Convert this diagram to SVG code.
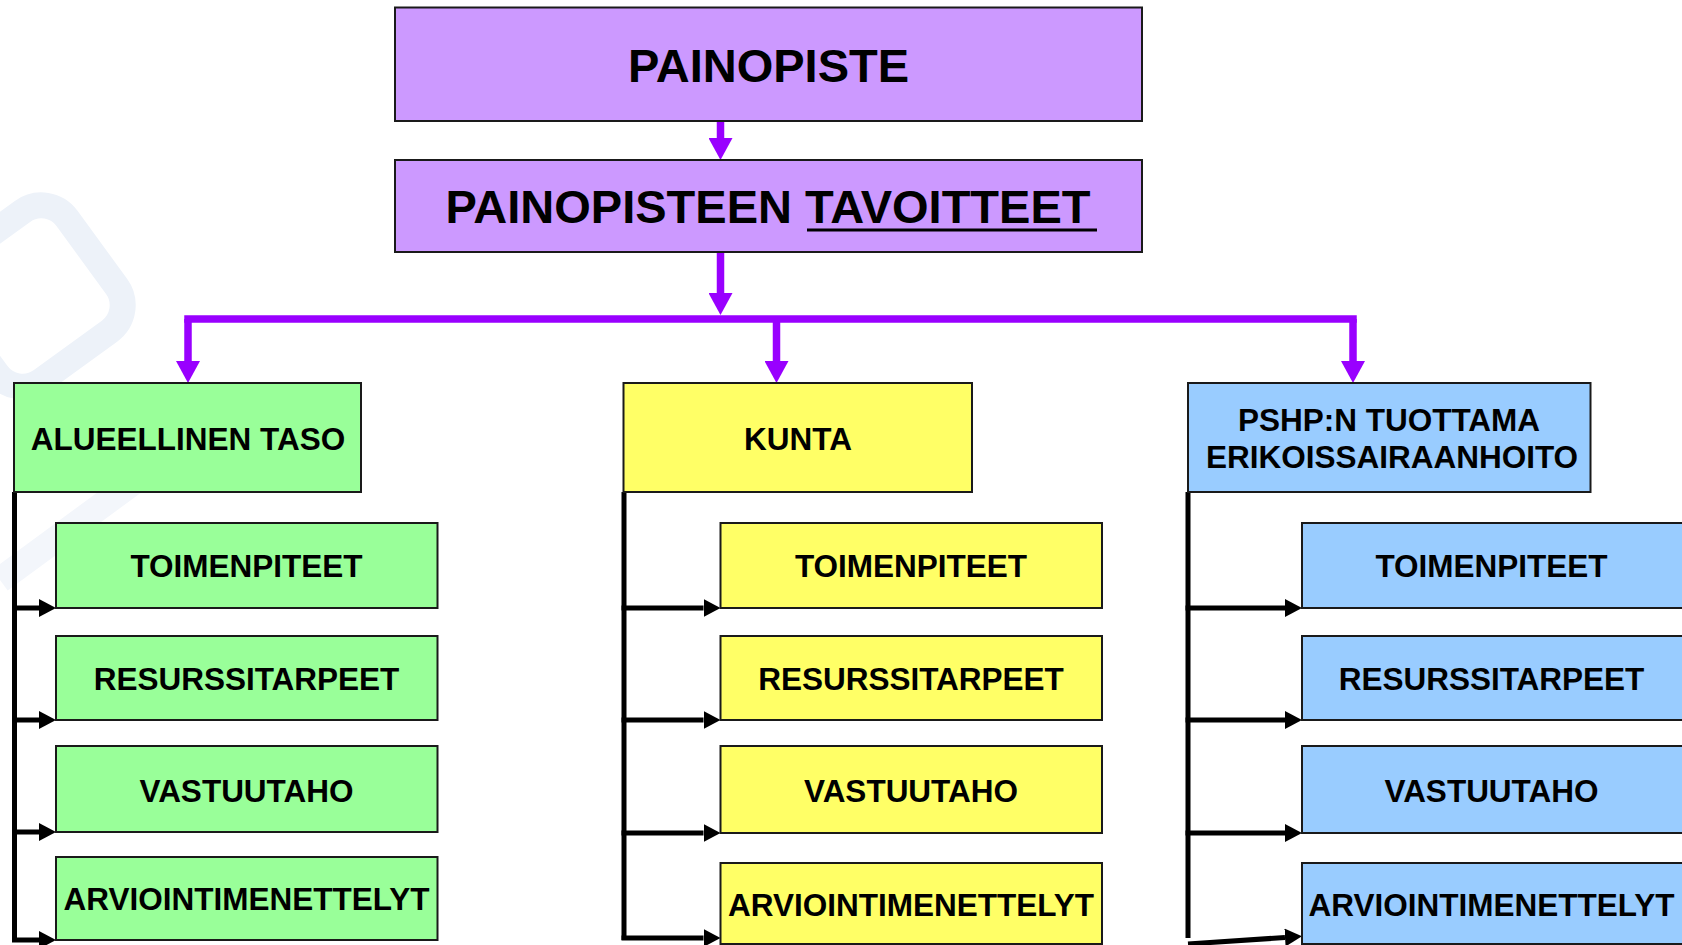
<svg xmlns="http://www.w3.org/2000/svg" width="1682" height="945" viewBox="0 0 1682 945">
<style>
.t{font-family:"Liberation Sans",Arial,sans-serif;font-weight:bold;fill:#000;text-anchor:middle}
.big{font-size:47px}
.mid{font-size:31.5px}
.box{stroke:#1a1a1a;stroke-width:2}
.pur{fill:#CC99FF}.grn{fill:#99FF99}.yel{fill:#FFFF66}.blu{fill:#99CCFF}
.pl{stroke:#9900FF;stroke-width:7.5;fill:none}
.bl{stroke:#000;stroke-width:5;fill:none}
</style>
<defs>
<marker id="ph" viewBox="0 0 22 24" refX="0" refY="12" markerWidth="22" markerHeight="24" markerUnits="userSpaceOnUse" orient="auto"><path d="M0,0 L22,12 L0,24 Z" fill="#9900FF"/></marker>
<marker id="bh" viewBox="0 0 17 18" refX="0" refY="9" markerWidth="17" markerHeight="18" markerUnits="userSpaceOnUse" orient="auto"><path d="M0,0 L17,9 L0,18 Z" fill="#000"/></marker>
</defs>
<rect width="1682" height="945" fill="#fff"/>
<g id="watermark" fill="none" stroke="#EDF2F9" stroke-width="26">
<rect x="-74" y="-74" width="148" height="148" rx="32" transform="translate(32,296) rotate(54)"/>
<path d="M150,470 L0,580" stroke="#F3F6FB"/>
</g>
<g id="connectors">
<path class="pl" d="M720.5,121 V138" marker-end="url(#ph)"/>
<path class="pl" d="M720.5,252 V293" marker-end="url(#ph)"/>
<path class="pl" d="M184.25,319 H1356.75"/>
<path class="pl" d="M188,319 V361" marker-end="url(#ph)"/>
<path class="pl" d="M776.5,319 V361" marker-end="url(#ph)"/>
<path class="pl" d="M1353,319 V361" marker-end="url(#ph)"/>
<path class="bl" d="M14.5,492 V942"/>
<path class="bl" d="M12,608 H39" marker-end="url(#bh)"/>
<path class="bl" d="M12,720 H39" marker-end="url(#bh)"/>
<path class="bl" d="M12,832 H39" marker-end="url(#bh)"/>
<path class="bl" d="M12,940 H39" marker-end="url(#bh)"/>
<path class="bl" d="M624,492 V940"/>
<path class="bl" d="M621.5,608 H703.5" marker-end="url(#bh)"/>
<path class="bl" d="M621.5,720 H703.5" marker-end="url(#bh)"/>
<path class="bl" d="M621.5,833 H703.5" marker-end="url(#bh)"/>
<path class="bl" d="M621.5,938 H703.5" marker-end="url(#bh)"/>
<path class="bl" d="M1188,492 V938"/>
<path class="bl" d="M1185.5,608 H1285" marker-end="url(#bh)"/>
<path class="bl" d="M1185.5,720 H1285" marker-end="url(#bh)"/>
<path class="bl" d="M1185.5,833 H1285" marker-end="url(#bh)"/>
<path class="bl" d="M1188,944 L1285,937.5" marker-end="url(#bh)"/>
</g>
<g id="painopiste">
<rect class="box pur" x="395" y="7.5" width="747" height="113.5"/>
<text class="t big" x="768.5" y="82">PAINOPISTE</text>
</g>
<g id="tavoitteet">
<rect class="box pur" x="395" y="160" width="747" height="92"/>
<text class="t big" x="768" y="223">PAINOPISTEEN TAVOITTEET</text>
<line x1="807" y1="230" x2="1097" y2="230" stroke="#000" stroke-width="3"/>
</g>
<g id="alueellinen">
<rect class="box grn" x="14" y="383" width="347" height="109"/>
<text class="t mid" x="188" y="450">ALUEELLINEN TASO</text>
</g>
<g id="kunta">
<rect class="box yel" x="623.5" y="383" width="348.5" height="109"/>
<text class="t mid" x="798" y="450">KUNTA</text>
</g>
<g id="pshp">
<rect class="box blu" x="1188" y="383" width="402.5" height="109"/>
<text class="t mid" x="1389" y="430.5">PSHP:N TUOTTAMA</text>
<text class="t mid" x="1392" y="468">ERIKOISSAIRAANHOITO</text>
</g>
<g id="g-toimenpiteet">
<rect class="box grn" x="56" y="523" width="381.5" height="85"/>
<text class="t mid" x="246.5" y="577">TOIMENPITEET</text>
</g>
<g id="g-resurssit">
<rect class="box grn" x="56" y="636" width="381.5" height="84"/>
<text class="t mid" x="246.5" y="690">RESURSSITARPEET</text>
</g>
<g id="g-vastuutaho">
<rect class="box grn" x="56" y="746" width="381.5" height="86"/>
<text class="t mid" x="246.5" y="802">VASTUUTAHO</text>
</g>
<g id="g-arviointi">
<rect class="box grn" x="56" y="857" width="381.5" height="83"/>
<text class="t mid" x="246.5" y="910">ARVIOINTIMENETTELYT</text>
</g>
<g id="y-toimenpiteet">
<rect class="box yel" x="720.5" y="523" width="381.5" height="85"/>
<text class="t mid" x="911" y="577">TOIMENPITEET</text>
</g>
<g id="y-resurssit">
<rect class="box yel" x="720.5" y="636" width="381.5" height="84"/>
<text class="t mid" x="911" y="690">RESURSSITARPEET</text>
</g>
<g id="y-vastuutaho">
<rect class="box yel" x="720.5" y="746" width="381.5" height="87"/>
<text class="t mid" x="911" y="802">VASTUUTAHO</text>
</g>
<g id="y-arviointi">
<rect class="box yel" x="720.5" y="863" width="381.5" height="81"/>
<text class="t mid" x="911" y="916">ARVIOINTIMENETTELYT</text>
</g>
<g id="b-toimenpiteet">
<rect class="box blu" x="1302" y="523" width="390" height="85"/>
<text class="t mid" x="1491.5" y="577">TOIMENPITEET</text>
</g>
<g id="b-resurssit">
<rect class="box blu" x="1302" y="636" width="390" height="84"/>
<text class="t mid" x="1491.5" y="690">RESURSSITARPEET</text>
</g>
<g id="b-vastuutaho">
<rect class="box blu" x="1302" y="746" width="390" height="87"/>
<text class="t mid" x="1491.5" y="802">VASTUUTAHO</text>
</g>
<g id="b-arviointi">
<rect class="box blu" x="1302" y="863" width="390" height="81"/>
<text class="t mid" x="1491.5" y="916">ARVIOINTIMENETTELYT</text>
</g>
</svg>
